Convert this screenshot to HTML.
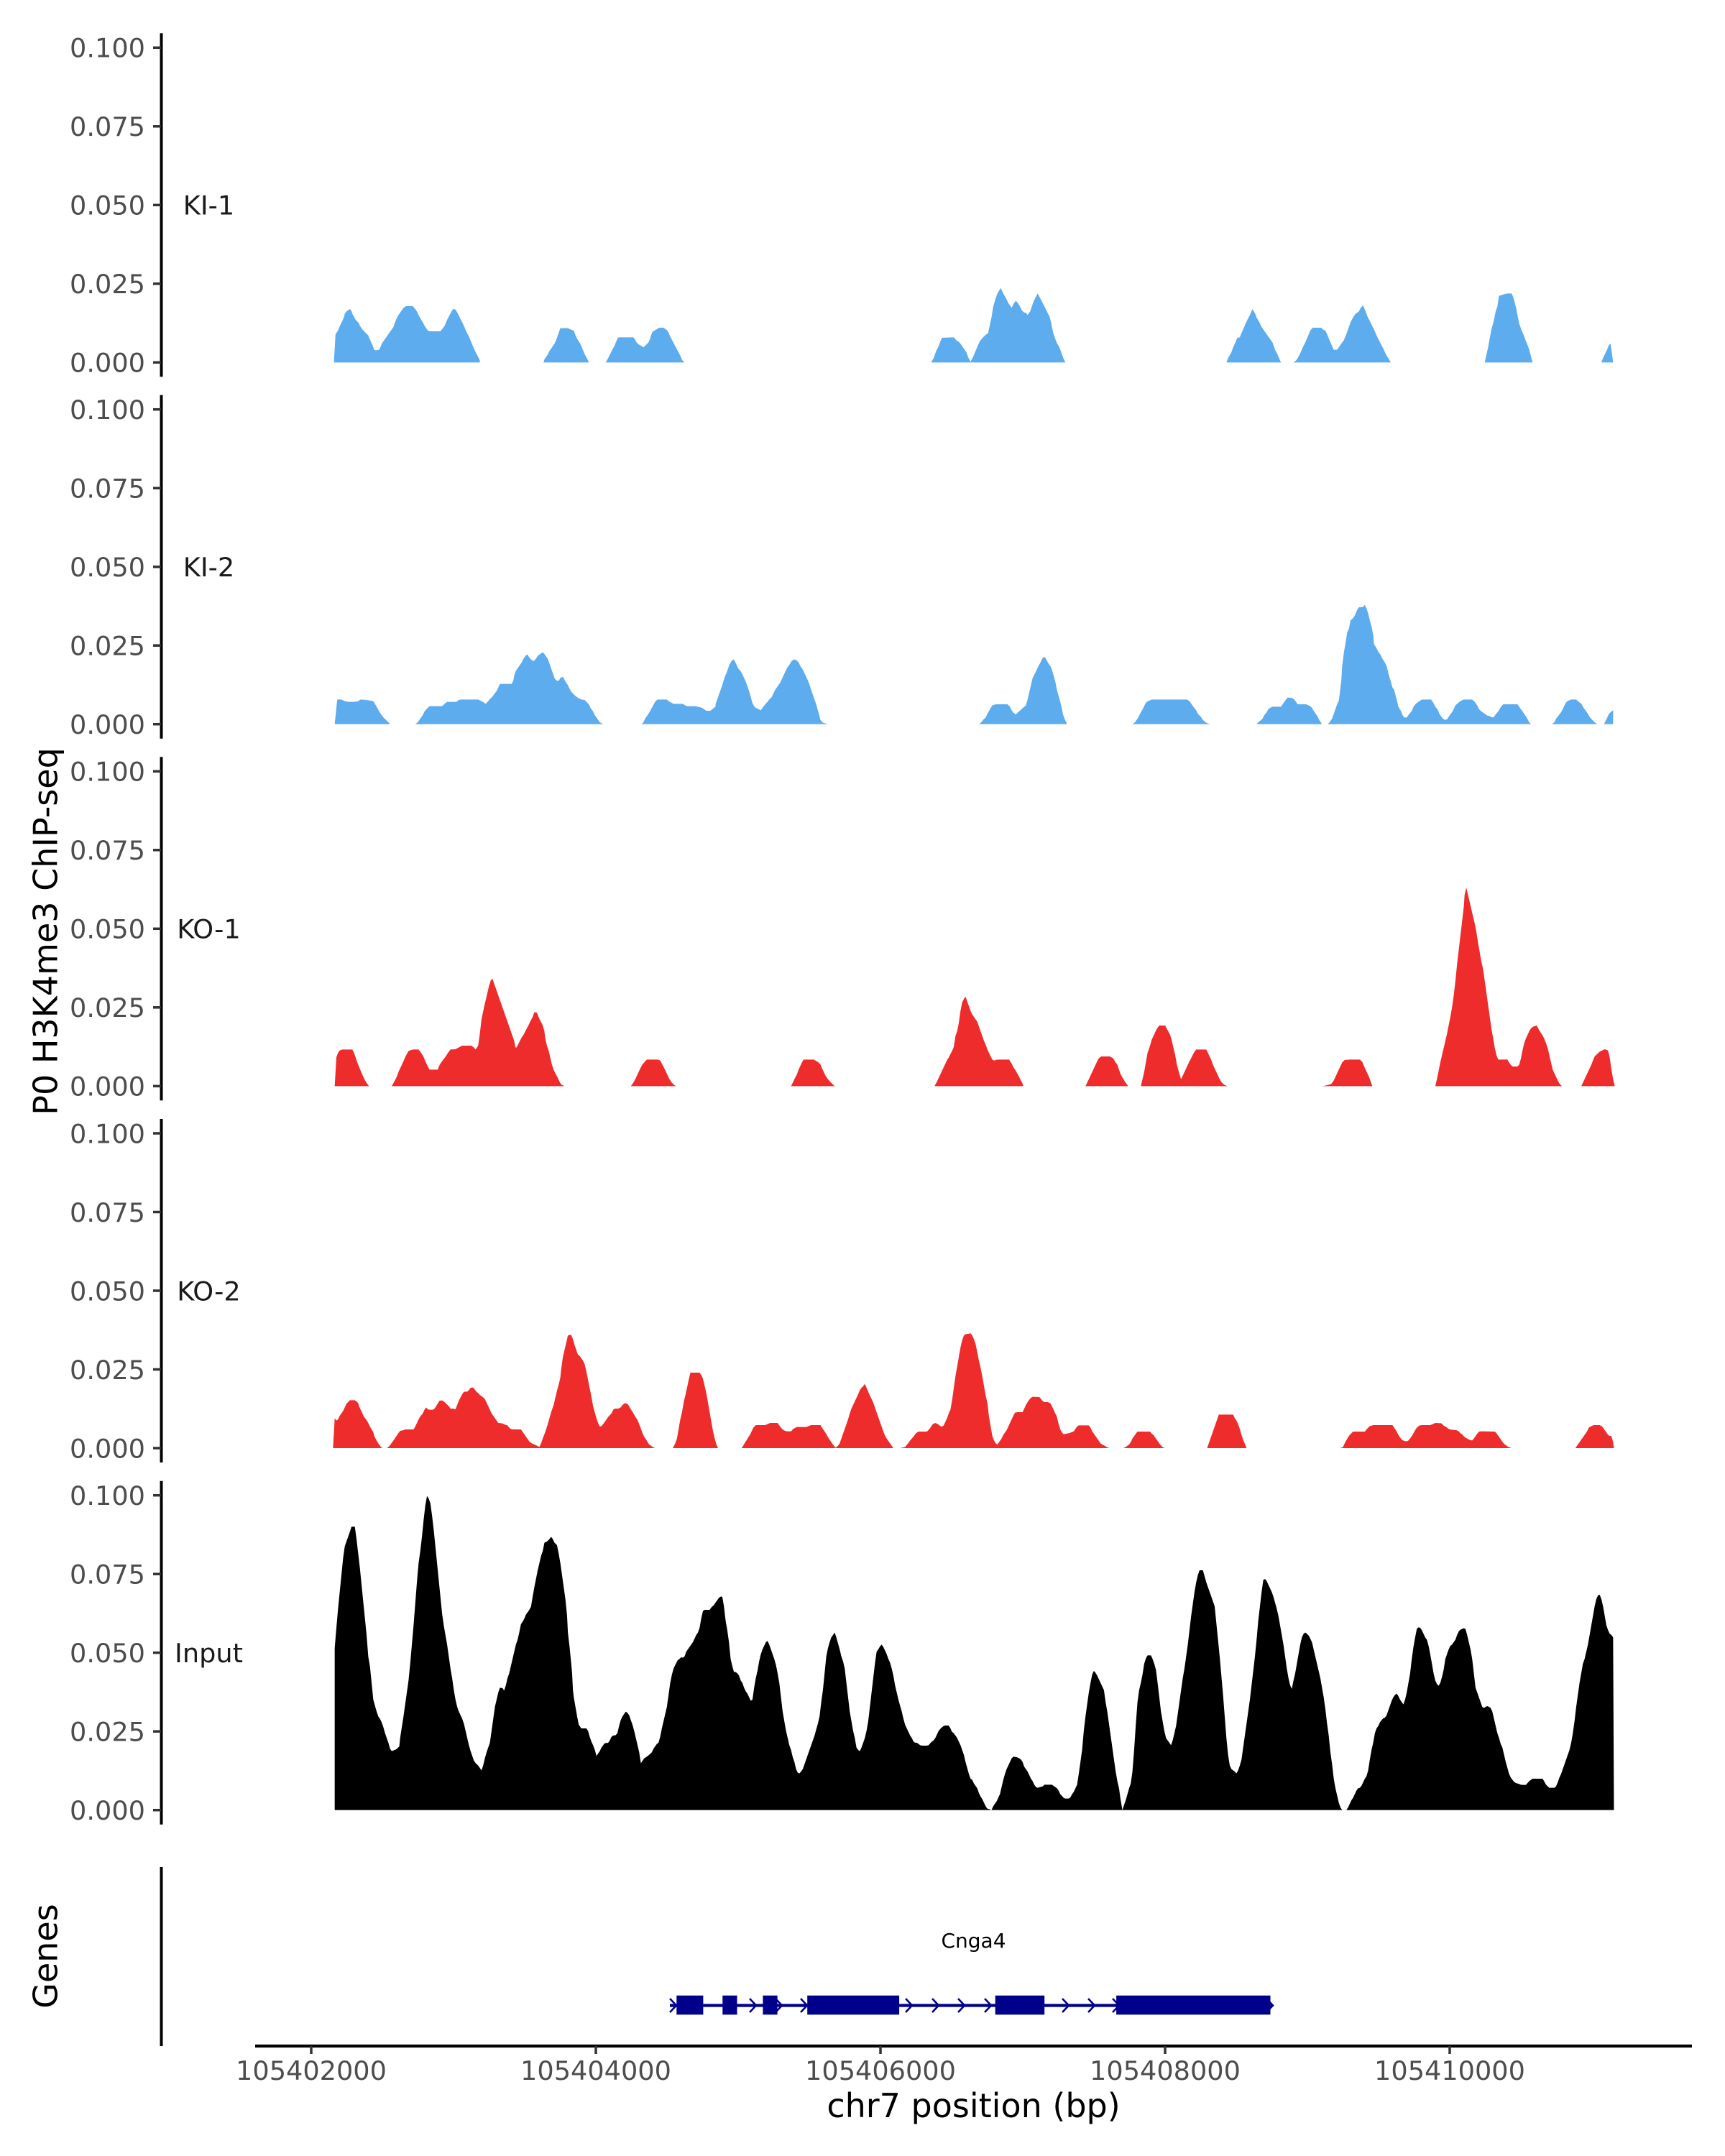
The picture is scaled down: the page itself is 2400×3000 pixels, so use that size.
<!DOCTYPE html>
<html>
<head>
<meta charset="utf-8">
<style>
html,body{margin:0;padding:0;background:#fff;}
svg{display:block;}
text{font-family:"DejaVu Sans","Liberation Sans",sans-serif;}
.tk{font-size:36.67px;fill:#4D4D4D;}
.st{font-size:36.67px;fill:#1A1A1A;}
.ti{font-size:46px;fill:#000;}
</style>
</head>
<body>
<svg width="2400" height="3000" viewBox="0 0 2400 3000" xmlns="http://www.w3.org/2000/svg">
<rect width="2400" height="3000" fill="#fff"/>

<!-- ===== KI-1 ===== -->
<g transform="translate(440,380) scale(1.16709,0.333333)" fill="#5CACEE">
<polygon points="21,373 23,255 26,240 27,230 31,200 33,185 34,170 36,160 38,155 40,150 42,158 43,170 47,195 51,210 52,220 55,235 57,242 59,250 62,260 63,270 67,300 69,320 71,322 75,320 77,305 78,295 81,280 85,260 89,240 92,225 95,195 98,175 100,165 104,145 107,138 115,138 118,150 120,160 122,175 126,200 128,212 130,225 133,240 136,243 148,243 151,230 153,220 156,195 159,175 161,162 163,150 166,152 169,170 171,185 174,205 177,228 179,245 182,265 185,290 188,315 190,330 193,350 195,365 195,373"/>
<polygon points="271,373 272,360 276,340 278,325 281,310 284,295 286,280 288,260 291,230 300,230 303,235 307,240 309,260 312,280 314,290 316,305 319,330 321,345 324,365 325,373"/>
<polygon points="345,373 348,355 350,340 353,320 356,300 357,290 360,268 378,268 380,278 382,290 384,297 388,305 390,310 393,300 396,290 398,275 399,260 401,245 404,238 407,232 409,228 414,228 418,238 420,248 422,265 425,285 428,305 431,325 434,345 436,362 439,373"/>
<polygon points="733,373 736,355 739,325 742,305 744,285 746,270 760,268 763,280 767,290 771,310 775,330 777,350 780,370 783,350 786,325 789,300 791,285 795,268 798,258 801,250 804,200 805,185 807,140 810,105 812,85 816,62 819,85 823,110 825,125 829,145 831,130 834,115 837,128 839,140 841,155 844,165 846,165 848,175 851,160 853,140 855,120 857,105 860,85 863,105 866,125 869,145 871,160 874,180 876,205 877,225 879,255 881,275 883,292 886,310 888,330 890,350 893,373"/>
<polygon points="1085,373 1087,355 1091,330 1093,310 1095,295 1098,270 1101,268 1103,250 1105,235 1108,210 1110,195 1113,175 1116,150 1119,168 1121,185 1125,210 1127,225 1130,240 1133,255 1136,270 1140,290 1143,320 1146,340 1149,365 1150,373"/>
<polygon points="1165,373 1168,365 1170,355 1173,335 1176,310 1179,290 1182,265 1185,240 1188,228 1198,228 1200,235 1203,240 1205,255 1208,280 1211,305 1213,320 1217,320 1220,305 1223,290 1225,280 1228,255 1230,235 1233,205 1236,185 1239,170 1243,160 1245,145 1248,135 1251,160 1253,180 1256,200 1258,215 1261,235 1264,260 1266,275 1269,295 1272,315 1274,330 1276,345 1278,355 1281,373"/>
<polygon points="1393,373 1395,340 1397,310 1399,270 1401,235 1404,195 1406,160 1408,140 1410,95 1413,92 1416,88 1420,85 1425,85 1427,100 1430,140 1432,175 1434,210 1437,240 1439,255 1441,275 1444,300 1446,320 1450,373"/>
<polygon points="1532,373 1534,355 1536,340 1539,318 1541,300 1543,295 1544,320 1546,373"/>
</g>

<!-- ===== KI-2 ===== -->
<g transform="translate(440,830) scale(1.16709,0.333333)" fill="#5CACEE">
<polygon points="22,533 25,430 30,430 34,437 38,440 45,440 50,437 53,430 60,432 65,435 68,437 72,460 75,480 78,495 80,505 83,515 86,525 88,533"/>
<polygon points="118,533 121,525 124,510 127,495 129,480 132,468 135,458 150,458 153,448 156,440 167,440 170,432 173,430 193,430 197,437 200,443 202,448 205,437 207,428 210,418 212,408 215,395 217,380 219,365 233,365 235,350 236,330 238,310 240,300 242,290 245,275 247,260 250,245 252,243 254,255 256,263 259,270 262,260 264,248 267,240 270,233 272,240 274,250 276,260 278,280 280,300 282,320 284,340 286,350 289,352 291,340 294,335 296,348 298,360 300,370 302,385 304,397 306,405 308,412 310,418 313,425 316,430 320,432 322,440 325,450 327,465 330,480 332,495 335,510 338,525 342,533"/>
<polygon points="388,533 390,525 392,510 395,495 398,478 400,465 403,445 405,435 407,430 418,430 420,437 423,443 426,448 437,448 440,455 442,458 452,458 457,462 460,465 462,470 465,477 470,477 473,468 476,460 476,450 478,430 481,400 484,370 487,335 489,320 491,300 493,282 495,270 497,262 499,270 501,285 503,300 506,312 508,325 510,340 512,355 514,375 516,395 518,420 520,445 522,458 524,465 527,470 530,475 533,460 536,447 538,440 540,430 543,420 545,405 547,390 550,375 553,360 555,345 557,330 559,315 561,300 564,285 567,268 570,262 573,268 575,275 577,290 580,305 582,320 584,335 586,350 588,368 590,390 592,410 594,430 596,450 598,475 600,500 601,515 604,527 607,530 610,533"/>
<polygon points="790,533 793,525 795,515 798,505 800,490 802,478 804,465 806,455 810,450 824,450 827,460 829,475 831,485 834,493 837,482 840,473 843,463 846,455 848,430 850,400 852,370 854,340 857,320 859,305 861,290 863,278 865,263 867,252 869,255 871,268 873,280 875,290 877,305 879,330 881,355 883,390 885,415 887,440 889,470 890,490 892,510 894,525 895,533"/>
<polygon points="973,533 976,525 978,515 980,505 982,490 984,478 986,465 988,450 990,440 993,435 996,430 1038,430 1041,437 1043,447 1046,462 1049,475 1051,490 1054,500 1057,515 1060,525 1063,530 1066,533"/>
<polygon points="1121,533 1123,525 1126,517 1128,510 1130,497 1133,483 1135,470 1138,463 1140,460 1150,460 1152,450 1154,440 1156,430 1158,422 1163,423 1166,430 1168,440 1170,450 1180,450 1185,458 1187,465 1190,483 1193,497 1196,517 1199,533"/>
<polygon points="1206,533 1209,520 1211,510 1213,490 1215,470 1217,450 1219,435 1220,410 1222,350 1223,290 1224,265 1225,235 1227,195 1229,150 1231,135 1233,100 1236,90 1238,80 1241,55 1243,45 1248,44 1250,35 1252,50 1254,70 1256,100 1258,125 1260,160 1261,200 1263,210 1266,230 1269,245 1271,260 1273,270 1276,290 1278,320 1281,355 1283,380 1285,390 1288,430 1290,460 1293,478 1295,495 1297,505 1300,505 1303,490 1306,478 1308,460 1311,447 1314,440 1317,432 1319,430 1329,430 1332,445 1334,460 1337,473 1339,490 1342,505 1345,515 1348,513 1351,497 1354,483 1356,470 1358,455 1361,445 1364,437 1368,430 1378,430 1381,440 1384,455 1386,470 1389,480 1392,487 1394,492 1396,497 1399,500 1402,505 1404,503 1406,492 1409,480 1412,462 1415,450 1432,450 1434,460 1436,470 1439,485 1442,500 1444,512 1446,525 1448,533"/>
<polygon points="1473,533 1476,525 1478,510 1481,497 1484,483 1486,470 1488,455 1490,442 1492,436 1496,430 1502,430 1505,440 1508,447 1510,460 1513,475 1516,490 1518,503 1521,515 1524,525 1527,533"/>
<polygon points="1535,533 1537,520 1539,505 1541,490 1544,480 1546,475 1546,533"/>
</g>

<!-- ===== KO-1 ===== -->
<g transform="translate(440,1225) scale(1.16709,0.333333)" fill="#EE2C2C">
<polygon points="22,859 24,738 26,720 28,710 31,706 43,706 45,720 47,740 49,760 51,778 53,795 55,812 57,827 59,840 61,850 63,859"/>
<polygon points="90,859 93,840 96,820 98,800 100,785 102,770 104,755 106,738 108,725 110,712 115,706 122,706 125,720 128,737 130,755 132,770 135,790 145,790 146,778 148,765 151,750 154,737 157,720 160,706 166,705 170,697 174,690 185,690 188,698 190,706 193,690 195,640 197,580 200,530 202,500 204,470 206,440 208,418 210,410 212,430 214,450 216,470 218,490 220,510 222,530 224,550 226,570 228,590 230,610 232,630 234,650 236,670 237,690 238,700 240,690 242,675 245,655 247,645 249,632 251,618 253,605 255,590 258,570 260,550 263,552 265,570 267,585 270,605 272,630 273,660 275,690 277,710 279,740 281,770 283,790 285,805 288,825 290,840 292,852 296,859"/>
<polygon points="375,859 378,845 381,825 383,810 385,795 387,780 389,768 391,760 394,748 407,748 410,752 412,765 415,785 417,800 419,815 421,830 424,845 427,855 429,859"/>
<polygon points="566,859 568,845 570,830 573,810 575,790 577,775 579,760 581,748 593,748 595,752 598,758 601,768 603,785 605,800 607,815 610,830 613,842 616,852 618,859"/>
<polygon points="737,859 740,840 742,825 744,810 746,795 748,780 750,765 752,750 754,740 756,725 758,712 760,695 762,650 764,630 766,595 768,545 770,510 772,495 774,485 776,505 778,525 780,545 782,560 784,570 786,580 788,590 790,610 792,630 794,650 796,670 798,685 800,705 802,720 804,735 806,748 808,752 812,748 826,748 829,765 831,780 834,795 836,808 838,820 840,835 842,848 843,859"/>
<polygon points="917,859 919,845 921,830 923,815 925,800 927,785 929,770 931,755 933,742 936,735 946,735 950,743 952,755 955,770 957,790 959,810 962,828 964,840 966,850 968,859"/>
<polygon points="983,859 985,830 987,800 989,760 991,720 994,690 996,665 998,650 1000,635 1002,620 1005,606 1012,606 1014,620 1016,632 1018,645 1020,670 1022,700 1024,730 1026,770 1028,795 1030,820 1031,830 1033,815 1035,800 1037,785 1039,770 1041,755 1043,742 1045,728 1047,715 1049,706 1061,706 1063,720 1065,735 1067,750 1069,770 1071,785 1073,800 1075,815 1077,830 1079,842 1082,852 1086,859"/>
<polygon points="1200,859 1205,855 1210,850 1213,835 1215,820 1217,805 1219,790 1221,775 1223,760 1226,750 1232,748 1244,748 1247,758 1249,775 1251,790 1253,805 1255,820 1257,840 1259,859"/>
<polygon points="1334,859 1336,830 1338,795 1340,760 1342,730 1344,700 1346,670 1348,640 1350,605 1352,570 1354,530 1356,480 1358,420 1360,350 1362,290 1364,230 1366,170 1368,110 1369,60 1371,30 1373,60 1375,90 1377,120 1379,150 1381,180 1383,215 1385,260 1387,300 1389,340 1391,370 1393,420 1395,470 1397,520 1399,570 1401,620 1403,660 1405,700 1407,730 1409,748 1420,748 1422,760 1424,770 1426,777 1432,777 1434,770 1436,745 1438,710 1440,680 1442,660 1444,645 1446,630 1448,618 1451,610 1455,606 1457,620 1459,632 1462,648 1464,662 1466,680 1468,700 1470,730 1472,760 1474,790 1476,805 1478,820 1480,835 1482,848 1485,859"/>
<polygon points="1508,859 1510,845 1512,830 1514,815 1516,800 1518,785 1520,770 1522,752 1524,735 1527,725 1530,715 1533,710 1536,705 1540,710 1542,740 1544,790 1546,830 1548,859"/>
</g>

<!-- ===== KO-2 ===== -->
<g transform="translate(440,1845) scale(1.16709,0.333333)" fill="#EE2C2C">
<polygon points="20,510 22,385 24,395 26,390 28,375 30,365 32,355 34,340 36,325 38,318 40,310 46,310 48,315 50,322 51,335 53,350 55,365 57,380 60,393 62,405 64,420 66,432 68,443 69,458 71,472 73,485 75,495 77,505 79,510 81,510"/>
<polygon points="84,510 86,505 88,498 90,488 92,478 94,468 96,458 98,447 100,438 104,435 106,432 116,432 118,420 120,405 122,390 124,378 127,365 129,350 131,340 133,348 135,350 139,350 141,345 143,335 145,323 147,312 150,311 153,318 156,328 158,335 160,345 163,345 166,348 168,330 170,312 172,298 174,285 176,275 180,274 182,268 184,258 187,257 189,265 191,275 193,280 195,288 197,293 199,298 201,305 203,320 205,335 207,350 209,365 211,375 213,385 215,395 217,405 222,407 225,412 228,415 230,425 232,430 235,432 244,432 246,442 248,452 250,462 252,472 254,482 256,488 258,492 261,496 263,500 266,505 268,490 270,470 272,452 274,432 276,410 278,385 280,360 283,330 285,300 287,270 289,245 291,215 292,180 294,130 296,100 298,70 300,40 302,37 304,38 306,55 308,80 310,100 312,120 314,125 316,135 318,145 320,160 322,190 324,225 326,260 328,295 330,335 332,360 334,385 336,405 338,420 340,418 342,410 344,400 346,390 348,380 350,372 352,365 354,350 356,345 360,345 363,340 365,330 368,322 371,325 373,335 375,348 377,358 379,370 381,382 383,393 385,410 387,428 389,448 391,463 393,472 395,485 397,495 399,500 401,505 404,510"/>
<polygon points="425,510 428,490 430,470 432,430 434,390 436,360 438,320 440,290 442,258 444,225 446,195 457,195 459,205 461,220 463,250 465,280 467,320 469,360 471,400 473,440 475,470 477,495 479,510"/>
<polygon points="507,510 509,500 511,488 513,477 515,465 517,455 519,440 521,425 524,414 535,414 538,410 541,405 550,405 552,415 554,425 556,432 558,437 561,440 566,440 568,432 570,427 573,422 584,422 587,418 590,414 601,414 603,425 605,435 607,445 609,458 611,470 613,480 615,490 617,500 619,508 622,500 624,490 626,470 628,450 630,430 632,410 634,390 636,365 638,345 640,330 642,315 644,300 646,285 648,268 650,258 652,252 654,242 656,258 658,275 660,290 662,305 664,320 666,340 668,360 670,380 672,400 674,420 676,440 678,458 680,470 682,480 684,490 686,500 688,510"/>
<polygon points="696,510 700,507 702,505 704,497 706,488 708,478 710,470 712,462 714,452 716,445 718,441 728,441 731,430 733,420 735,410 738,405 740,408 742,412 744,418 746,420 748,415 750,400 752,385 754,365 756,350 758,310 760,260 762,210 764,170 766,130 768,90 770,60 772,40 774,35 776,33 778,33 780,30 782,40 784,55 786,75 788,110 790,145 792,175 794,210 796,250 798,290 800,320 802,380 804,420 806,460 808,478 810,490 812,495 815,480 817,470 819,455 821,445 823,435 825,420 827,405 829,390 831,375 833,362 836,360 842,360 844,345 846,330 848,318 850,308 852,300 854,296 862,297 864,305 866,313 868,318 872,318 875,322 877,335 879,350 881,365 883,380 885,410 887,432 889,445 891,452 894,450 898,447 901,443 903,440 905,430 907,420 909,415 921,415 923,425 925,440 927,450 929,460 931,470 933,480 935,490 937,495 940,500 942,505 944,508 946,510"/>
<polygon points="962,510 965,505 967,500 969,495 971,485 973,470 975,460 977,450 979,441 994,441 996,450 998,455 1000,465 1002,475 1004,485 1006,495 1008,502 1010,508 1012,510"/>
<polygon points="1062,510 1064,490 1066,470 1068,450 1070,430 1072,410 1074,390 1076,370 1093,370 1095,385 1097,395 1099,410 1101,430 1103,455 1105,475 1107,492 1109,510"/>
<polygon points="1221,510 1224,505 1226,490 1228,477 1230,465 1232,455 1234,448 1236,441 1250,441 1252,432 1254,425 1256,418 1260,414 1283,414 1285,425 1287,435 1289,448 1291,460 1293,470 1295,477 1297,480 1300,482 1302,478 1304,470 1306,460 1308,448 1310,435 1312,425 1315,416 1318,414 1328,414 1331,410 1334,405 1341,406 1344,416 1347,422 1350,430 1353,433 1359,435 1362,440 1364,448 1366,452 1368,460 1370,466 1372,470 1375,476 1378,478 1380,470 1382,460 1384,450 1386,441 1389,440 1405,441 1407,448 1409,458 1411,468 1413,478 1415,488 1417,495 1419,500 1421,505 1425,510"/>
<polygon points="1501,510 1503,500 1505,490 1507,480 1509,470 1511,460 1513,450 1515,440 1517,425 1520,418 1523,414 1530,414 1533,420 1535,430 1537,440 1539,450 1541,458 1544,460 1546,485 1547,510"/>
</g>

<!-- ===== Input ===== -->
<g transform="translate(440,2075) scale(1.16709,0.333333)" fill="#000">
<polygon points="22,1331 22,655 24,570 26,490 28,420 30,350 32,280 34,230 36,210 38,190 40,170 42,148 46,148 48,200 50,260 52,320 54,390 56,460 58,530 60,600 62,690 64,730 66,800 68,870 70,895 72,920 74,940 76,950 78,965 80,985 82,1010 84,1030 86,1050 88,1075 90,1085 92,1082 95,1078 97,1072 99,1065 100,1030 102,985 104,940 106,890 108,840 110,790 112,720 114,640 116,560 118,470 120,380 122,300 124,250 126,190 128,120 130,60 132,20 134,30 136,50 138,100 140,160 142,230 144,300 146,370 148,440 150,510 152,560 154,600 156,640 158,690 160,740 162,780 164,830 166,870 168,900 170,920 172,935 174,950 176,970 178,1000 180,1030 182,1060 184,1085 186,1105 188,1125 190,1135 193,1145 195,1155 197,1165 199,1145 201,1115 203,1090 205,1070 207,1050 209,1000 211,950 213,900 215,870 217,840 219,820 222,822 224,832 226,810 228,780 230,760 232,730 234,700 236,670 238,640 240,620 242,590 244,555 246,545 248,532 250,515 252,505 254,495 256,482 258,440 260,400 262,365 264,330 266,300 268,270 270,250 272,215 275,210 278,200 280,190 282,200 284,215 287,225 289,260 291,300 293,350 295,400 297,450 299,520 300,590 302,650 304,720 305,760 306,830 307,860 309,900 311,940 313,975 316,990 322,990 324,1000 326,1025 328,1045 330,1060 332,1078 334,1105 336,1095 338,1085 340,1070 342,1060 344,1052 348,1050 350,1040 352,1025 354,1020 357,1018 359,1010 361,980 363,955 365,940 367,930 369,920 371,925 373,935 375,955 377,975 379,1000 381,1030 383,1060 385,1090 387,1135 389,1125 391,1115 394,1108 397,1100 400,1090 402,1075 404,1065 406,1055 408,1050 410,1025 412,990 414,960 416,930 418,900 420,850 422,800 424,765 426,740 428,725 431,705 433,700 435,693 437,695 439,690 441,670 443,660 445,650 447,640 449,630 451,615 453,600 455,590 457,570 459,530 461,500 463,495 469,495 471,485 474,475 476,465 478,455 480,445 482,440 484,440 486,480 488,540 490,580 492,630 494,700 496,730 498,755 500,755 502,760 504,770 506,790 508,800 510,820 512,835 514,845 516,860 518,875 520,870 522,820 524,780 526,750 528,710 530,680 532,660 534,645 536,630 538,625 540,640 542,660 544,680 546,700 548,725 550,760 552,800 554,860 556,920 558,960 560,1000 562,1030 564,1060 566,1080 568,1110 570,1130 572,1160 574,1175 576,1178 578,1170 580,1160 582,1140 584,1120 586,1100 588,1080 590,1060 592,1040 594,1020 596,995 598,970 600,940 602,880 604,830 606,760 608,690 610,655 612,630 614,610 616,600 618,590 620,610 622,635 624,660 626,690 628,710 630,740 632,800 634,860 636,920 638,960 640,1000 642,1030 644,1070 646,1080 648,1085 650,1070 652,1050 654,1030 656,1000 658,960 660,900 662,840 664,780 666,720 668,670 670,660 672,648 674,640 676,650 678,665 680,680 682,700 684,715 686,740 688,770 690,810 692,840 694,870 696,895 698,920 700,950 702,975 704,990 706,1005 708,1020 710,1030 712,1045 714,1050 716,1050 718,1055 720,1060 722,1062 728,1062 730,1060 732,1052 734,1045 736,1040 738,1030 740,1015 742,1000 744,992 746,985 748,980 750,978 754,978 756,990 758,1005 760,1010 762,1020 764,1030 766,1045 768,1060 770,1080 772,1100 774,1130 776,1155 778,1180 780,1200 782,1205 784,1220 786,1230 788,1240 790,1260 792,1275 794,1285 796,1300 798,1315 800,1325 803,1328 805,1331 807,1315 809,1305 811,1295 813,1280 815,1265 817,1235 819,1205 821,1180 823,1160 825,1145 827,1130 829,1115 831,1108 835,1110 838,1115 840,1120 842,1130 844,1150 846,1160 848,1170 850,1185 852,1200 854,1210 856,1225 858,1235 860,1238 866,1232 868,1225 877,1225 879,1230 881,1235 883,1240 885,1250 887,1265 889,1272 891,1280 893,1283 897,1283 899,1278 901,1265 903,1255 905,1240 907,1225 909,1180 911,1130 913,1080 915,1000 917,940 919,890 921,840 923,800 925,765 927,750 929,758 931,770 933,785 935,800 937,815 939,830 941,880 943,920 945,970 947,1020 949,1070 951,1120 953,1170 955,1210 957,1240 959,1290 961,1331 963,1310 965,1290 967,1265 969,1240 971,1220 973,1170 975,1080 977,975 979,880 981,830 983,800 985,765 987,720 989,698 991,685 995,685 997,700 999,720 1001,745 1003,800 1005,860 1007,920 1009,960 1011,1000 1013,1030 1015,1040 1017,1050 1019,1060 1021,1040 1023,1010 1025,980 1027,930 1029,880 1031,830 1033,780 1035,740 1037,690 1039,640 1041,580 1043,520 1045,470 1047,420 1049,380 1051,350 1053,330 1057,330 1059,355 1061,380 1063,400 1065,420 1067,440 1069,460 1071,480 1073,550 1075,620 1077,690 1079,770 1081,850 1083,940 1085,1030 1087,1100 1089,1145 1091,1160 1093,1165 1095,1170 1097,1178 1099,1165 1101,1145 1103,1120 1105,1070 1107,1020 1109,970 1111,920 1113,870 1115,810 1117,750 1119,690 1121,620 1123,540 1125,480 1127,420 1129,370 1131,366 1133,375 1135,390 1137,405 1139,420 1141,440 1143,465 1145,490 1147,520 1149,560 1151,600 1153,640 1155,690 1157,740 1159,780 1161,810 1163,825 1165,790 1167,760 1169,720 1171,680 1173,640 1175,610 1177,595 1179,590 1181,595 1183,602 1185,615 1187,630 1189,660 1191,690 1193,720 1195,750 1197,780 1199,820 1201,860 1203,910 1205,970 1207,1020 1209,1090 1211,1140 1213,1200 1215,1240 1217,1270 1219,1300 1221,1320 1223,1331 1228,1331 1230,1320 1232,1305 1234,1290 1236,1280 1238,1265 1240,1250 1242,1240 1244,1238 1246,1230 1248,1215 1250,1200 1252,1190 1254,1165 1256,1120 1258,1080 1260,1050 1262,1010 1264,990 1266,980 1268,965 1270,955 1272,948 1274,945 1276,935 1278,915 1280,895 1282,875 1284,860 1286,850 1288,845 1290,855 1292,870 1294,880 1296,890 1298,870 1300,840 1302,800 1304,760 1306,700 1308,650 1310,610 1312,575 1314,568 1316,570 1318,580 1320,595 1322,610 1324,620 1326,645 1328,680 1330,720 1332,760 1334,790 1336,805 1338,812 1340,800 1342,775 1344,745 1346,700 1348,680 1350,660 1352,645 1354,640 1356,630 1358,620 1360,600 1362,585 1364,578 1366,575 1368,572 1370,575 1372,600 1374,630 1376,660 1378,700 1380,760 1382,820 1384,840 1386,860 1388,880 1390,900 1392,905 1394,900 1396,897 1398,900 1400,905 1402,920 1404,950 1406,980 1408,1010 1410,1030 1412,1055 1414,1070 1416,1100 1418,1130 1420,1155 1422,1180 1424,1195 1426,1205 1428,1213 1430,1218 1432,1220 1434,1222 1436,1225 1438,1226 1442,1226 1444,1218 1446,1210 1448,1205 1450,1200 1462,1200 1464,1212 1466,1225 1468,1232 1470,1238 1476,1238 1478,1232 1480,1215 1482,1195 1484,1180 1486,1160 1488,1140 1490,1120 1492,1100 1494,1080 1496,1050 1498,1010 1500,960 1502,900 1504,850 1506,800 1508,760 1510,720 1512,700 1514,670 1516,640 1518,600 1520,560 1522,520 1524,480 1526,450 1528,435 1530,432 1532,450 1534,480 1536,520 1538,560 1540,580 1542,595 1544,600 1546,610 1547,1331"/>
</g>

<!-- ===== Y axes (5 tracks) ===== -->
<g stroke="#000" stroke-width="4">
<line x1="224.5" y1="46.3" x2="224.5" y2="524.3"/>
<line x1="224.5" y1="549.7" x2="224.5" y2="1027.7"/>
<line x1="224.5" y1="1053.3" x2="224.5" y2="1531.3"/>
<line x1="224.5" y1="1557" x2="224.5" y2="2035"/>
<line x1="224.5" y1="2060.7" x2="224.5" y2="2538.7"/>
<line x1="224.5" y1="2598" x2="224.5" y2="2847"/>
</g>
<g stroke="#333" stroke-width="3.5">
<line x1="213" y1="504.3" x2="224" y2="504.3"/><line x1="213" y1="394.8" x2="224" y2="394.8"/><line x1="213" y1="285.3" x2="224" y2="285.3"/><line x1="213" y1="175.8" x2="224" y2="175.8"/><line x1="213" y1="66.3" x2="224" y2="66.3"/>
<line x1="213" y1="1007.7" x2="224" y2="1007.7"/><line x1="213" y1="898.2" x2="224" y2="898.2"/><line x1="213" y1="788.7" x2="224" y2="788.7"/><line x1="213" y1="679.2" x2="224" y2="679.2"/><line x1="213" y1="569.7" x2="224" y2="569.7"/>
<line x1="213" y1="1511.3" x2="224" y2="1511.3"/><line x1="213" y1="1401.8" x2="224" y2="1401.8"/><line x1="213" y1="1292.3" x2="224" y2="1292.3"/><line x1="213" y1="1182.8" x2="224" y2="1182.8"/><line x1="213" y1="1073.3" x2="224" y2="1073.3"/>
<line x1="213" y1="2015" x2="224" y2="2015"/><line x1="213" y1="1905.5" x2="224" y2="1905.5"/><line x1="213" y1="1796" x2="224" y2="1796"/><line x1="213" y1="1686.5" x2="224" y2="1686.5"/><line x1="213" y1="1577" x2="224" y2="1577"/>
<line x1="213" y1="2518.7" x2="224" y2="2518.7"/><line x1="213" y1="2409.2" x2="224" y2="2409.2"/><line x1="213" y1="2299.7" x2="224" y2="2299.7"/><line x1="213" y1="2190.2" x2="224" y2="2190.2"/><line x1="213" y1="2080.7" x2="224" y2="2080.7"/>
</g>
<g class="tk" text-anchor="end">
<text x="202" y="517.7">0.000</text><text x="202" y="408.2">0.025</text><text x="202" y="298.7">0.050</text><text x="202" y="189.2">0.075</text><text x="202" y="79.7">0.100</text>
<text x="202" y="1021.1">0.000</text><text x="202" y="911.6">0.025</text><text x="202" y="802.1">0.050</text><text x="202" y="692.6">0.075</text><text x="202" y="583.1">0.100</text>
<text x="202" y="1524.7">0.000</text><text x="202" y="1415.2">0.025</text><text x="202" y="1305.7">0.050</text><text x="202" y="1196.2">0.075</text><text x="202" y="1086.7">0.100</text>
<text x="202" y="2028.4">0.000</text><text x="202" y="1918.9">0.025</text><text x="202" y="1809.4">0.050</text><text x="202" y="1699.9">0.075</text><text x="202" y="1590.4">0.100</text>
<text x="202" y="2532.1">0.000</text><text x="202" y="2422.6">0.025</text><text x="202" y="2313.1">0.050</text><text x="202" y="2203.6">0.075</text><text x="202" y="2094.1">0.100</text>
</g>
<g class="st" text-anchor="middle">
<text x="290.5" y="298.7">KI-1</text>
<text x="290.5" y="802.1">KI-2</text>
<text x="290.5" y="1305.7">KO-1</text>
<text x="290.5" y="1809.4">KO-2</text>
<text x="290.5" y="2313.1">Input</text>
</g>

<!-- Y titles -->
<text class="ti" text-anchor="middle" transform="translate(79.5,1296) rotate(-90)">P0 H3K4me3 ChIP-seq</text>
<text class="ti" text-anchor="middle" transform="translate(79.5,2722) rotate(-90)">Genes</text>

<!-- ===== Gene model ===== -->
<line x1="932" y1="2790.5" x2="1770" y2="2790.5" stroke="#00008B" stroke-width="4.3"/>
<g fill="none" stroke="#00008B" stroke-width="2.6">
<polyline points="932,2781 941,2790.5 932,2800"/>
<polyline points="1043,2781 1052,2790.5 1043,2800"/>
<polyline points="1079,2781 1088,2790.5 1079,2800"/>
<polyline points="1114,2781 1123,2790.5 1114,2800"/>
<polyline points="1260,2781 1269,2790.5 1260,2800"/>
<polyline points="1297,2781 1306,2790.5 1297,2800"/>
<polyline points="1333,2781 1342,2790.5 1333,2800"/>
<polyline points="1370,2781 1379,2790.5 1370,2800"/>
<polyline points="1478,2781 1487,2790.5 1478,2800"/>
<polyline points="1514,2781 1523,2790.5 1514,2800"/>
<polyline points="1548,2781 1557,2790.5 1548,2800"/>
<polyline points="1762,2781 1771,2790.5 1762,2800"/>
</g>
<g fill="#00008B">
<rect x="941.3" y="2776.7" width="37.1" height="26.6"/>
<rect x="1005.3" y="2776.7" width="20.2" height="26.6"/>
<rect x="1061.4" y="2776.7" width="20.2" height="26.6"/>
<rect x="1123.2" y="2776.7" width="127.9" height="26.6"/>
<rect x="1384.7" y="2776.7" width="68.5" height="26.6"/>
<rect x="1553.1" y="2776.7" width="214.4" height="26.6"/>
</g>
<text x="1354.5" y="2710" text-anchor="middle" style="font-size:28px;fill:#000;">Cnga4</text>

<!-- ===== X axis ===== -->
<line x1="355" y1="2847" x2="2354" y2="2847" stroke="#000" stroke-width="4.3"/>
<g stroke="#333" stroke-width="3.5">
<line x1="433" y1="2847" x2="433" y2="2858"/>
<line x1="829" y1="2847" x2="829" y2="2858"/>
<line x1="1225" y1="2847" x2="1225" y2="2858"/>
<line x1="1621" y1="2847" x2="1621" y2="2858"/>
<line x1="2017" y1="2847" x2="2017" y2="2858"/>
</g>
<g class="tk" text-anchor="middle">
<text x="433" y="2894">105402000</text>
<text x="829" y="2894">105404000</text>
<text x="1225" y="2894">105406000</text>
<text x="1621" y="2894">105408000</text>
<text x="2017" y="2894">105410000</text>
</g>
<text class="ti" x="1354.5" y="2946" text-anchor="middle">chr7 position (bp)</text>
</svg>
</body>
</html>
